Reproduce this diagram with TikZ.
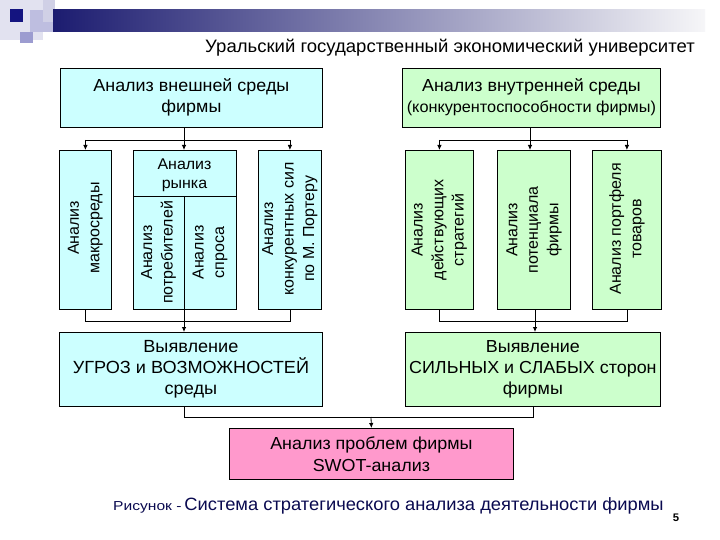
\documentclass[tikz,border=0pt]{standalone}
\usepackage{fontspec}
\setmainfont{Liberation Sans}[FakeStretch=1.03]
\newfontfamily\rotfont{Liberation Sans}
\newfontfamily\widefont{Liberation Sans}[FakeStretch=1.2]
\usetikzlibrary{arrows.meta}
\definecolor{cyanbox}{RGB}{204,255,255}
\definecolor{greenbox}{RGB}{204,255,204}
\definecolor{pinkbox}{RGB}{255,153,204}
\definecolor{capcol}{RGB}{10,10,80}
\definecolor{navybar}{RGB}{28,28,112}
\definecolor{midbar}{RGB}{178,178,204}
\definecolor{endbar}{RGB}{246,246,248}
\definecolor{palesq}{RGB}{226,226,240}
\definecolor{lavsq}{RGB}{190,190,224}
\definecolor{lightsq}{RGB}{208,208,230}
\definecolor{medsq}{RGB}{156,156,208}
\definecolor{darksq}{RGB}{20,20,128}
\begin{document}
\begin{tikzpicture}[x=1pt,y=-1pt,
  boxc/.style={draw=black,line width=0.8pt,fill=cyanbox,inner sep=0pt,anchor=north west},
  boxg/.style={draw=black,line width=0.8pt,fill=greenbox,inner sep=0pt,anchor=north west},
  boxp/.style={draw=black,line width=0.8pt,fill=pinkbox,inner sep=0pt,anchor=north west},
  txt/.style={align=center,font=\fontsize{17.4}{21}\selectfont,inner sep=0pt},
  rtxt/.style={align=center,rotate=90,font=\rotfont\fontsize{16}{20.5}\selectfont,inner sep=0pt},
  conn/.style={line width=0.8pt,draw=black},
  arr/.style={line width=0.8pt,draw=black,-{Latex[length=5pt,width=4.5pt]}}]
\useasboundingbox (0,0) rectangle (720,540);
\fill[white] (0,0) rectangle (720,540);
% header decoration
\fill[palesq] (0,0) rectangle (43,40);
\fill[lavsq] (30,10) rectangle (55,32);
\fill[lightsq] (43,0) rectangle (55,22);
\shade[left color=navybar,middle color=midbar,right color=endbar] (53,10) rectangle (705,32);
\fill[darksq] (10,9) rectangle (23,22);
\fill[medsq] (20,32) rectangle (33,43);
% title
\node[txt,anchor=center,font=\fontsize{18}{21}\selectfont] (title) at (450,48) {Уральский государственный экономический университет};
% top boxes
\node[boxc,minimum width=262pt,minimum height=59pt] (TL) at (60,68) {};
\node[txt] (TLt) at ([yshift=1pt]TL.center) {Анализ внешней среды\\фирмы};
\node[boxg,minimum width=258pt,minimum height=59pt] (TR) at (402,68) {};
\node[txt] (TRt) at ([yshift=1pt]TR.center) {Анализ внутренней среды\\{\fontsize{15.8}{21}\selectfont(конкурентоспособности фирмы)}};
% left column
\node[boxc,minimum width=52pt,minimum height=159pt] (L1) at (59,150) {};
\node[rtxt] (L1t) at ([yshift=2pt]L1.center) {Анализ\\макросреды};
\node[boxc,minimum width=103pt,minimum height=159pt] (L2) at (133,150) {};
\coordinate (dv) at (184,196);
\draw[conn] (L2.west |- dv) -- (L2.east |- dv);
\draw[conn] (dv) -- (L2.south -| dv);
\node[txt,font=\fontsize{15.5}{19}\selectfont] (L2t) at (184.5,175) {Анализ\\рынка};
\node[rtxt] (L2a) at (158.5,252.5) {Анализ\\потребителей};
\node[rtxt] (L2b) at (210,252.5) {Анализ\\спроса};
\node[boxc,minimum width=63pt,minimum height=159pt] (L3) at (258,150) {};
\node[rtxt] (L3t) at ([yshift=1pt]L3.center) {Анализ\\конкурентных сил\\по М. Портеру};
% right column
\node[boxg,minimum width=68pt,minimum height=159pt] (R1) at (405,150) {};
\node[rtxt] (R1t) at (R1.center) {Анализ\\действующих\\стратегий};
\node[boxg,minimum width=73pt,minimum height=159pt] (R2) at (497,150) {};
\node[rtxt] (R2t) at (R2.center) {Анализ\\потенциала\\фирмы};
\node[boxg,minimum width=69pt,minimum height=159pt] (R3) at (592,150) {};
\node[rtxt] (R3t) at ([yshift=1pt]R3.center) {Анализ портфеля\\товаров};
% lower boxes
\node[boxc,minimum width=263pt,minimum height=74pt] (LB) at (59,332) {};
\node[txt,font=\fontsize{17.6}{21}\selectfont] (LBt) at (LB.center) {Выявление\\УГРОЗ и ВОЗМОЖНОСТЕЙ\\среды};
\node[boxg,minimum width=255pt,minimum height=74pt] (RB) at (405,332) {};
\node[txt,font=\fontsize{17.4}{21}\selectfont] (RBt) at (RB.center) {Выявление\\СИЛЬНЫХ и СЛАБЫХ сторон\\фирмы};
% pink box
\node[boxp,minimum width=284pt,minimum height=51pt] (P) at (229,428) {};
\node[txt,font=\fontsize{17.4}{22}\selectfont] (Pt) at (P.center) {Анализ проблем фирмы\\SWOT-анализ};
% connectors top
\coordinate (jl) at (184,140);
\coordinate (jr) at (530,140);
\draw[conn] (TL.south -| jl) -- (jl);
\draw[conn] (L1.north |- jl) -- (L3.north |- jl);
\draw[arr] (L1.north |- jl) -- (L1.north);
\draw[arr] (jl) -- (jl |- L2.north);
\draw[arr] (L3.north |- jl) -- (L3.north);
\draw[conn] (TR.south -| jr) -- (jr);
\draw[conn] (R1.north |- jr) -- (R3.north |- jr);
\draw[arr] (R1.north |- jr) -- (R1.north);
\draw[arr] (jr) -- (jr |- R2.north);
\draw[arr] (R3.north |- jr) -- (R3.north);
% connectors bottom
\coordinate (bl) at (184,321);
\coordinate (br) at (535,321);
\draw[conn] (L1.south) -- (L1.south |- bl) -- (L3.south |- bl) -- (L3.south);
\draw[arr] (L2.south -| bl) -- (bl |- LB.north);
\draw[conn] (R1.south) -- (R1.south |- br) -- (R3.south |- br) -- (R3.south);
\draw[arr] (R2.south -| br) -- (br |- RB.north);
% to pink
\coordinate (jp) at (371,417);
\draw[conn] (LB.south -| bl) -- (bl |- jp) -- (jp -| RB.south) -- (RB.south);
\draw[arr] (jp) -- (P.north);
% caption
\node[anchor=west,inner sep=0pt,text=capcol] (cap) at (113,506) {{\widefont\fontsize{13}{14}\selectfont Рисунок -} {\fontsize{17.8}{19}\selectfont Система стратегического анализа деятельности фирмы}};
\node[inner sep=0pt,font=\bfseries\fontsize{11}{12}\selectfont] (pg) at (676,518) {5};
\end{tikzpicture}
\end{document}
